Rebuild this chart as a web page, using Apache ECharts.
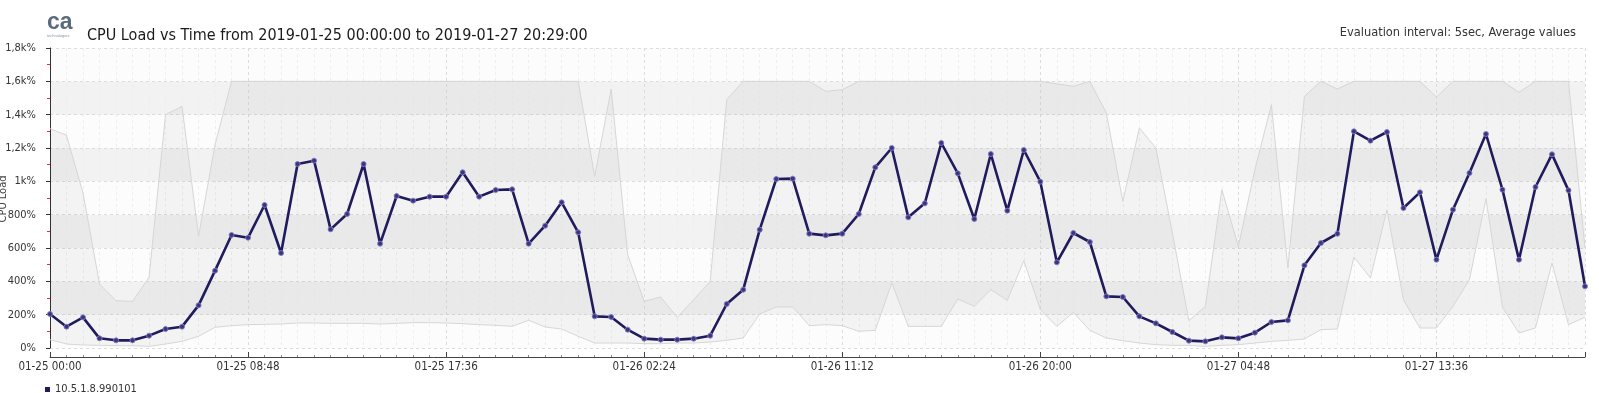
<!DOCTYPE html>
<html>
<head>
<meta charset="utf-8">
<script src="https://cdn.jsdelivr.net/npm/echarts@6/dist/echarts.min.js"></script>
<style>
html,body{margin:0;padding:0;background:#fff;}
#chart{width:1599px;height:393px;}
</style>
</head>
<body>
<div id="chart"></div>
<script>
// ---- data ----
const seriesName = '10.5.1.8.990101';
const stepMinutes = 44; // sampling step between points
const xTickLabels = ['01-25 00:00','01-25 08:48','01-25 17:36','01-26 02:24','01-26 11:12','01-26 20:00','01-27 04:48','01-27 13:36'];
const yTickLabels = ['0%','200%','400%','600%','800%','1k%','1,2k%','1,4k%','1,6k%','1,8k%'];

const avgValues = [204,128,184,58,46,46,74,114,128,256,464,678,662,858,570,1104,1124,712,804,1104,
  626,912,884,908,908,1054,908,948,952,626,734,874,694,190,186,110,56,50,50,56,
  74,264,350,710,1014,1016,686,676,686,804,1084,1200,784,868,1230,1048,774,1164,824,1188,
  998,514,690,636,310,306,190,148,96,44,40,64,58,92,156,166,496,630,686,1300,
  1244,1296,840,934,530,830,1050,1284,950,530,966,1162,946,370];

const maxValues = [1316,1276,930,384,284,280,424,1400,1450,670,1220,1600,1600,1600,1600,1600,1600,1600,1600,1600,
  1600,1600,1600,1600,1600,1600,1600,1600,1600,1600,1600,1600,1600,1030,1554,560,280,306,184,290,
  400,1490,1600,1600,1600,1600,1600,1540,1550,1600,1600,1600,1600,1600,1600,1600,1600,1600,1600,1600,
  1600,1585,1570,1600,1410,880,1320,1200,690,164,250,950,610,1070,1460,480,1510,1600,1554,1600,
  1600,1600,1600,1600,1506,1600,1600,1600,1600,1534,1600,1600,1600,600];

const minValues = [50,24,18,16,14,14,10,24,40,70,124,134,140,142,144,150,150,148,148,148,
  144,148,152,152,150,146,140,136,130,166,126,114,70,30,30,30,26,26,30,30,
  36,46,60,204,246,246,134,140,134,100,106,390,130,130,130,294,250,350,286,524,
  230,130,214,106,60,44,30,20,16,16,10,16,20,30,40,46,54,110,114,546,
  420,830,290,120,120,250,410,896,245,90,120,510,140,185];

// ---- build ----
const majorStep = 528;
const xMax = (avgValues.length - 1) * stepMinutes;
const xs = avgValues.map((_, i) => i * stepMinutes);
const avgData = avgValues.map((v, i) => [xs[i], v]);
const minData = minValues.map((v, i) => [xs[i], v]);
const maxData = maxValues.map((v, i) => [xs[i], v]);
const bandData = xs.map((x, i) => [x, minValues[i], maxValues[i]]);

const FONT = "'DejaVu Sans Condensed', 'Liberation Sans Narrow', 'DejaVu Sans', sans-serif";

const chart = echarts.init(document.getElementById('chart'), null, {renderer: 'canvas'});
chart.setOption({
  animation: false,
  backgroundColor: '#ffffff',
  textStyle: {fontFamily: FONT},
  grid: {left: 50, right: 14, top: 48, bottom: 45, containLabel: false},
  xAxis: {
    type: 'value', min: 0, max: xMax, interval: majorStep, offset: 9,
    axisLine: {show: true, onZero: false, lineStyle: {color: '#444', width: 1}},
    axisTick: {show: true, inside: true, length: 5, lineStyle: {color: '#444'}},
    minorTick: {show: true, splitNumber: 12, length: 2, lineStyle: {color: '#888'}},
    axisLabel: {margin: 4, fontSize: 11.5, color: '#333', fontFamily: FONT,
      formatter: v => xTickLabels[Math.round(v / majorStep)] || ''},
    splitLine: {show: true, lineStyle: {color: '#dcdcdc', type: [3, 3], width: 1}},
    minorSplitLine: {show: true, lineStyle: {color: '#eeeeee', type: [3, 3], width: 1}}
  },
  yAxis: {
    type: 'value', min: 0, max: 1800, interval: 200, offset: 8,
    axisLine: {show: true, lineStyle: {color: '#333', width: 1}},
    axisTick: {show: true, length: 4, lineStyle: {color: '#333'}},
    minorTick: {show: true, splitNumber: 2, length: 3, lineStyle: {color: '#e03030'}},
    axisLabel: {margin: 6, fontSize: 11, color: '#333', fontFamily: FONT,
      formatter: v => yTickLabels[Math.round(v / 200)] || ''},
    splitLine: {show: true, lineStyle: {color: '#dcdcdc', type: [3, 3], width: 1}},
    splitArea: {show: true, areaStyle: {color: ['#fcfcfc', '#f2f2f2']}}
  },
  legend: {
    show: true, data: [{name: seriesName, icon: 'rect', itemStyle: {color: '#1f1b5c', borderWidth: 0}}], left: 40, top: 379,
    itemWidth: 5, itemHeight: 5, itemGap: 5,
    textStyle: {fontSize: 11, color: '#333', fontFamily: FONT}
  },
  graphic: [
    {type: 'text', left: 47, top: 11, style: {text: 'ca', fontSize: 23, fontWeight: 'bold', fill: '#5a6b7d', fontFamily: "'Liberation Sans Narrow', 'Liberation Sans', sans-serif"}},
    {type: 'text', left: 47, top: 34, style: {text: 'technologies', fontSize: 4, fill: '#8a98a6', fontFamily: "'Liberation Sans', sans-serif"}},
    {type: 'text', x: 87, y: 36, style: {text: 'CPU Load vs Time from 2019-01-25 00:00:00 to 2019-01-27 20:29:00', fontSize: 16, fill: '#1a1a1a', fontFamily: FONT, textVerticalAlign: 'middle', textAlign: 'left'}},
    {type: 'text', x: 1576, y: 33, style: {text: 'Evaluation interval: 5sec, Average values', fontSize: 12.7, fill: '#333', fontFamily: FONT, textVerticalAlign: 'middle', textAlign: 'right'}},
    {type: 'text', x: 3, y: 199, rotation: Math.PI / 2, style: {text: 'CPU Load', fontSize: 11, fill: '#444', fontFamily: FONT, textVerticalAlign: 'middle', textAlign: 'center'}}
  ],
  series: [
    {
      name: 'band', type: 'custom', data: bandData, silent: true, z: 1,
      encode: {x: 0, y: [1, 2]},
      renderItem: function (params, api) {
        if (params.dataIndex !== 0) return null;
        const top = bandData.map(d => api.coord([d[0], d[2]]));
        const bottom = bandData.map(d => api.coord([d[0], d[1]])).reverse();
        return {
          type: 'polygon',
          shape: {points: top.concat(bottom)},
          style: {fill: 'rgba(0,0,0,0.035)', stroke: null}
        };
      }
    },
    {
      name: 'max', type: 'line', data: maxData, symbol: 'none', silent: true,
      lineStyle: {color: '#d6d6d6', width: 1}, z: 2
    },
    {
      name: 'min', type: 'line', data: minData, symbol: 'none', silent: true,
      lineStyle: {color: '#d6d6d6', width: 1}, z: 2
    },
    {
      name: seriesName, type: 'line', data: avgData,
      symbol: 'circle', symbolSize: 5, showSymbol: true,
      lineStyle: {color: '#1f1b5c', width: 2.6},
      itemStyle: {color: '#3a3580', borderColor: 'rgba(130,125,190,0.9)', borderWidth: 1},
      z: 3
    }
  ]
});
</script>
</body>
</html>
